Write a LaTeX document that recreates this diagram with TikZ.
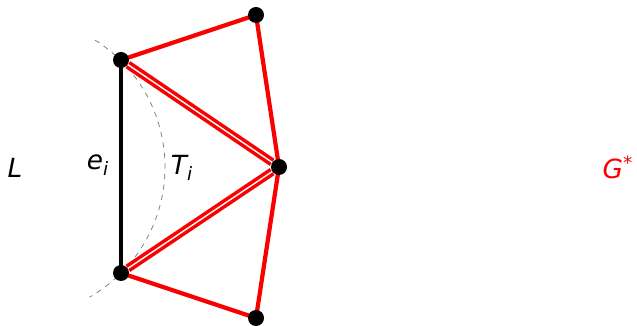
\documentclass[tikz,border=0pt]{standalone}
\usepackage{fontspec}
\setmainfont{DejaVu Sans}
\usepackage{xcolor}
\usepackage{tikz}
\usetikzlibrary{calc,backgrounds}
\definecolor{edgered}{RGB}{250,0,0}
\definecolor{arcgrey}{RGB}{120,120,120}
\tikzset{
  vtx/.style={circle,fill=black,inner sep=0pt,minimum size=3.2mm},
  baseedge/.style={line width=2.3pt,draw=black},
  redge/.style={line width=2.4pt,draw=edgered},
  dredge/.style={line width=2pt,draw=edgered,double=white,double distance=0.8pt},
  boundary/.style={dashed,draw=arcgrey,thin},
  biglabel/.style={font=\fontsize{15}{18}\selectfont\itshape}
}
\begin{document}
\begin{tikzpicture}
  \useasboundingbox (0,0) rectangle (12.74,6.5);
  % vertices
  \node[vtx] (top) at (2.42,5.30) {};
  \node[vtx] (bot) at (2.42,1.04) {};
  \node[vtx] (mid) at (5.58,3.16) {};
  \node[vtx] (up) at (5.12,6.20) {};
  \node[vtx] (down) at (5.12,0.14) {};
  \begin{scope}[on background layer]
    % boundary of T_i
    \coordinate (ctr) at (0.30,3.16);
    \draw[boundary] ($(ctr)+(57.8:3)$) arc[start angle=57.8,end angle=-60.2,radius=3];
    % edges
    \draw[baseedge] (top.center) -- (bot.center);
    \draw[redge] (top.center) -- (up.center);
    \draw[redge] (up.center) -- (mid.center);
    \draw[redge] (mid.center) -- (down.center);
    \draw[redge] (down.center) -- (bot.center);
    \draw[dredge] (top) -- (mid);
    \draw[dredge] (bot) -- (mid);
  \end{scope}
  % labels
  \node[biglabel] (lL) at (0.30,3.14) {L};
  \node[biglabel] (le) at (1.96,3.20) {e\textsubscript{i}};
  \node[biglabel] (lT) at (3.64,3.14) {T\textsubscript{i}};
  \node[biglabel,text=edgered] (lG) at (12.36,3.16) {G\textsuperscript{*}};
\end{tikzpicture}
\end{document}
